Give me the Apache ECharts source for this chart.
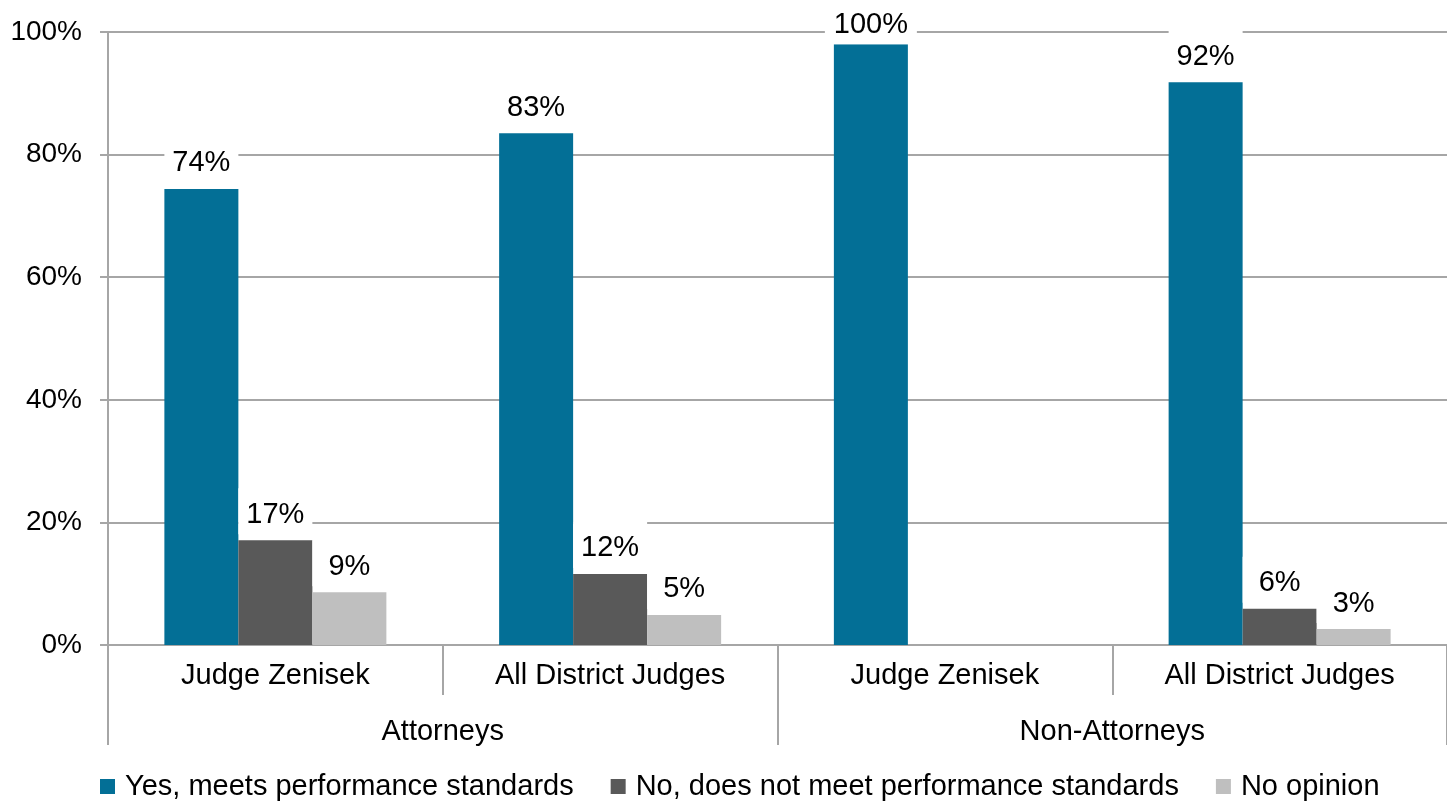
<!DOCTYPE html>
<html>
<head>
<meta charset="utf-8">
<script src="https://cdn.jsdelivr.net/npm/echarts@6/dist/echarts.min.js"></script>
<style>html,body{margin:0;padding:0;background:#fff;}#c{width:1447px;height:802px;}</style>
</head>
<body>
<div id="c"></div>
<script>
var categories = ['Judge Zenisek', 'All District Judges', 'Judge Zenisek', 'All District Judges'];
var groups = ['Attorneys', 'Non-Attorneys'];
var seriesNames = ['Yes, meets performance standards', 'No, does not meet performance standards', 'No opinion'];
var yesValues = [74.4, 83.5, 98.0, 91.8];
var noValues = [17.1, 11.6, null, 5.9];
var noOpinionValues = [8.6, 4.9, null, 2.6];
var yesLabels = ['74%', '83%', '100%', '92%'];
var noLabels = ['17%', '12%', '', '6%'];
var noOpinionLabels = ['9%', '5%', '', '3%'];
var yTicks = [0, 20, 40, 60, 80, 100];

var FONT = "'Liberation Sans', Arial, sans-serif";
var AXIS_COLOR = '#a6a6a6';
var chart = echarts.init(document.getElementById('c'));

function makeSeries(name, values, labels, color) {
  return {
    name: name,
    type: 'bar',
    barWidth: 74,
    barGap: '0%',
    itemStyle: { color: color },
    data: values.map(function (v) {
      // labels of bars close to the top are pushed down to stay inside the chart
      if (v !== null && v > 95) return { value: v, label: { distance: 0, width: 92, padding: [12, 0, 5, 0] } };
      return v;
    }),
    label: {
      show: true,
      position: 'top',
      distance: 6,
      color: '#000',
      fontFamily: FONT,
      fontSize: 29,
      backgroundColor: '#fff',
      width: 74,
      align: 'center',
      padding: [12, 0, 5, 0],
      formatter: function (p) { return labels[p.dataIndex]; }
    }
  };
}

chart.setOption({
  animation: false,
  textStyle: { fontFamily: FONT },
  grid: { left: 108, right: 0, top: 32, bottom: 157, containLabel: false },
  legend: {
    bottom: 1,
    left: 100,
    itemWidth: 15,
    itemHeight: 15,
    itemGap: 37,
    padding: 0,
    icon: 'rect',
    textStyle: { fontSize: 29, color: '#000', fontFamily: FONT, padding: [0, 0, 0, 5] },
    data: seriesNames
  },
  xAxis: [
    {
      type: 'category',
      data: categories,
      position: 'bottom',
      axisLine: { show: true, lineStyle: { color: AXIS_COLOR, width: 2 } },
      axisTick: { show: true, length: 50, interval: 0, lineStyle: { color: AXIS_COLOR, width: 2 } },
      axisLabel: { interval: 0, margin: 16, fontSize: 29, color: '#000', fontFamily: FONT },
      splitLine: { show: false }
    },
    {
      type: 'category',
      data: groups,
      position: 'bottom',
      axisLine: { show: false },
      axisTick: { show: true, length: 100, interval: 0, lineStyle: { color: AXIS_COLOR, width: 2 } },
      axisLabel: { interval: 0, margin: 72, fontSize: 29, color: '#000', fontFamily: FONT },
      splitLine: { show: false }
    }
  ],
  yAxis: {
    type: 'value',
    min: yTicks[0],
    max: yTicks[yTicks.length - 1],
    interval: 20,
    axisLine: { show: true, lineStyle: { color: AXIS_COLOR, width: 2 } },
    axisTick: { show: true, length: 8, lineStyle: { color: AXIS_COLOR, width: 2 } },
    axisLabel: { margin: 26, fontSize: 28, color: '#000', fontFamily: FONT, formatter: '{value}%' },
    splitLine: { show: true, lineStyle: { color: AXIS_COLOR, width: 2 } }
  },
  series: [
    makeSeries(seriesNames[0], yesValues, yesLabels, '#036f96'),
    makeSeries(seriesNames[1], noValues, noLabels, '#595959'),
    makeSeries(seriesNames[2], noOpinionValues, noOpinionLabels, '#bfbfbf')
  ]
});
</script>
</body>
</html>
